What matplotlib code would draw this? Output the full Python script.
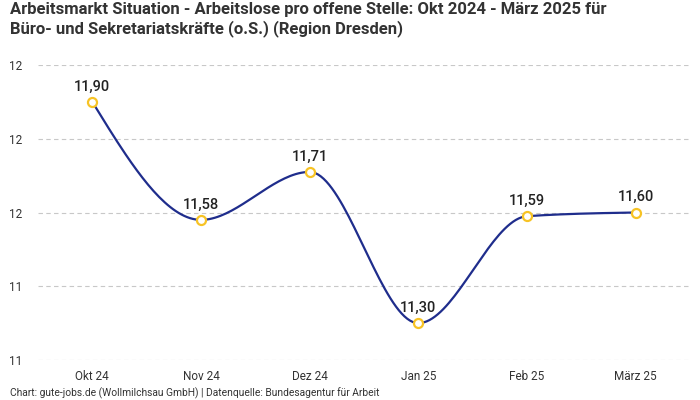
import numpy as np
import matplotlib
matplotlib.use("Agg")
import matplotlib.pyplot as plt
from matplotlib.ticker import FixedLocator, FuncFormatter

months = ["Okt 24", "Nov 24", "Dez 24", "Jan 25", "Feb 25", "März 25"]
values = [11.90, 11.58, 11.71, 11.30, 11.59, 11.60]
y_ticks = [11.2, 11.4, 11.6, 11.8, 12.0]
title = ("Arbeitsmarkt Situation - Arbeitslose pro offene Stelle: Okt 2024 - März 2025 für\n"
         "Büro- und Sekretariatskräfte (o.S.) (Region Dresden)")
footer = "Chart: gute-jobs.de (Wollmilchsau GmbH) | Datenquelle: Bundesagentur für Arbeit"

plt.rcParams['font.family'] = ['Roboto', 'DejaVu Sans']

LINE = "#1f2d8c"
MARK = "#f7c325"
TXT = "#333333"


def monotone_x(x, y, n=40):
    x = np.asarray(x, float); y = np.asarray(y, float)
    h = np.diff(x); s = np.diff(y) / h
    m = np.zeros_like(y)
    for i in range(1, len(y) - 1):
        if s[i - 1] * s[i] <= 0:
            m[i] = 0
        else:
            p = (s[i - 1] * h[i] + s[i] * h[i - 1]) / (h[i - 1] + h[i])
            m[i] = (np.sign(s[i - 1]) + np.sign(s[i])) * min(abs(s[i - 1]), abs(s[i]), 0.5 * abs(p))
    m[0] = (3 * s[0] - m[1]) / 2 if len(y) > 2 else s[0]
    m[-1] = (3 * s[-1] - m[-2]) / 2 if len(y) > 2 else s[-1]
    xs, ys = [], []
    for i in range(len(h)):
        t = np.linspace(0, 1, n)
        h00 = 2 * t**3 - 3 * t**2 + 1
        h10 = t**3 - 2 * t**2 + t
        h01 = -2 * t**3 + 3 * t**2
        h11 = t**3 - t**2
        xs.append(x[i] + t * h[i])
        ys.append(h00 * y[i] + h10 * h[i] * m[i] + h01 * y[i + 1] + h11 * h[i] * m[i + 1])
    return np.concatenate(xs), np.concatenate(ys)


fig = plt.figure(figsize=(7, 4), dpi=100)
ax = fig.add_axes([38 / 700, 1 - 360 / 400, (690 - 38) / 700, (360 - 65) / 400])

xi = np.arange(len(months))
sx, sy = monotone_x(xi, values)
ax.plot(sx, sy, color=LINE, lw=1.6, zorder=3, solid_capstyle='round')
ax.plot(xi, values, 'o', ms=6.5, mfc='white', mec=MARK, mew=1.6, zorder=4)
for x, v in zip(xi, values):
    ax.annotate(f"{v:.2f}".replace(".", ","), (x, v), xytext=(0, 6), textcoords='offset points',
                ha='center', va='bottom', fontsize=10.5, color="#222222", fontweight='medium')

ax.set_xlim(-0.5, len(months) - 0.5)
ax.set_ylim(min(y_ticks), max(y_ticks))
ax.set_xticks(xi)
ax.set_xticklabels(months)
ax.yaxis.set_major_locator(FixedLocator(y_ticks))
ax.yaxis.set_major_formatter(FuncFormatter(lambda v, p: f"{v:.0f}"))
ax.tick_params(axis='both', length=0, labelsize=8.5, labelcolor=TXT)
ax.tick_params(axis='x', pad=7)
ax.tick_params(axis='y', pad=21)
for lab in ax.get_yticklabels():
    lab.set_horizontalalignment('left')
ax.grid(axis='y', color='#c8c8c8', ls=(0, (4, 3)), lw=0.8)
for sp in ax.spines.values():
    sp.set_visible(False)

fig.text(10 / 700, 1 - 2 / 400, title, ha='left', va='top', fontsize=12, fontweight='bold',
         color=TXT, linespacing=1.2)
fig.text(10 / 700, 1 - 393 / 400, footer, ha='left', va='center', fontsize=7.4, color=TXT)

fig.savefig("out.png", dpi=100)
